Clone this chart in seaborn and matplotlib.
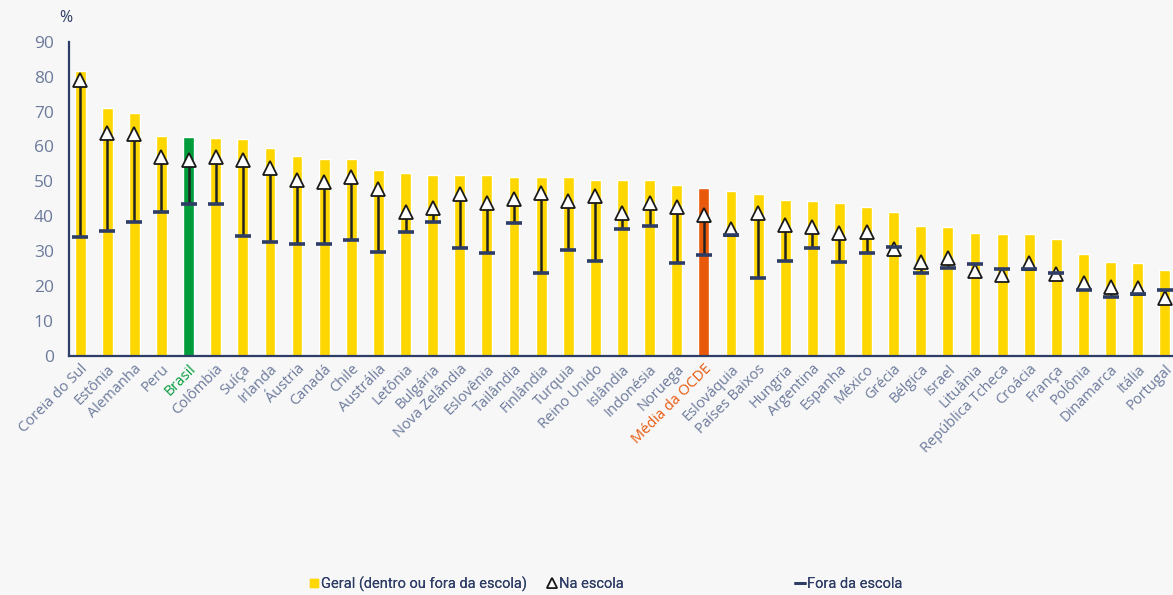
import matplotlib
matplotlib.use('Agg')
import matplotlib.pyplot as plt
import seaborn as sns
import pandas as pd
from matplotlib.lines import Line2D

paises = ['Coreia do Sul', 'Estônia', 'Alemanha', 'Peru', 'Brasil', 'Colômbia', 'Suíça',
          'Irlanda', 'Áustria', 'Canadá', 'Chile', 'Austrália', 'Letônia', 'Bulgária',
          'Nova Zelândia', 'Eslovênia', 'Tailândia', 'Finlândia', 'Turquia', 'Reino Unido',
          'Islândia', 'Indonésia', 'Noruega', 'Média da OCDE', 'Eslováquia', 'Países Baixos',
          'Hungria', 'Argentina', 'Espanha', 'México', 'Grécia', 'Bélgica', 'Israel',
          'Lituânia', 'República Tcheca', 'Croácia', 'França', 'Polônia', 'Dinamarca',
          'Itália', 'Portugal']
geral = [81.7, 70.9, 69.6, 62.9, 62.6, 62.5, 62.0, 59.7, 57.4, 56.3, 56.3, 53.2, 52.5, 51.9,
         51.7, 51.7, 51.3, 51.3, 51.2, 50.5, 50.4, 50.4, 49.0, 48.1, 47.3, 46.3, 44.7, 44.4,
         43.9, 42.8, 41.3, 37.2, 36.8, 35.3, 35.0, 34.8, 33.4, 29.1, 26.8, 26.5, 24.6]
na_escola = [79.0, 63.8, 63.5, 57.1, 56.0, 56.9, 56.0, 53.8, 50.4, 49.9, 51.2, 47.8, 41.1, 42.3,
             46.4, 43.7, 45.0, 46.8, 44.5, 45.8, 40.9, 43.9, 42.6, 40.4, 36.3, 40.9, 37.5, 37.0,
             35.1, 35.6, 30.5, 27.0, 28.0, 24.2, 23.1, 26.5, 23.4, 20.8, 19.7, 19.4, 16.5]
fora_escola = [34.0, 35.8, 38.5, 41.1, 43.5, 43.6, 34.3, 32.6, 32.2, 32.0, 33.3, 29.7, 35.4, 38.5,
               30.8, 29.4, 38.1, 23.8, 30.4, 27.3, 36.3, 37.3, 26.5, 28.9, 34.7, 22.3, 27.3, 30.8,
               27.0, 29.4, 31.1, 23.9, 25.1, 26.3, 24.9, 24.9, 23.9, 18.9, 17.0, 17.8, 18.9]

AMARELO = '#ffd700'
VERDE = '#009c3b'
LARANJA = '#e8590c'
NAVY = '#2e3d66'
CINZA = '#6c7a9c'

cores = {p: AMARELO for p in paises}
cores['Brasil'] = VERDE
cores['Média da OCDE'] = LARANJA

df = pd.DataFrame({'pais': paises, 'geral': geral, 'na': na_escola, 'fora': fora_escola})
df['x'] = range(len(df))

sns.set_style('white')
plt.rcParams['font.family'] = ['Open Sans', 'DejaVu Sans']

fig = plt.figure(figsize=(11.73, 5.95), dpi=100)
fig.patch.set_facecolor('#f7f7f7')
ax = fig.add_axes([69 / 1173, 1 - 356 / 595, 1104 / 1173, (356 - 41.7) / 595])
ax.set_facecolor('#f7f7f7')

sns.barplot(data=df, x='pais', y='geral', hue='pais', palette=cores, legend=False,
            width=0.4, ax=ax, saturation=1, zorder=2)

# linha entre fora e dentro da escola
lo = df[['na', 'fora']].min(axis=1)
hi = df[['na', 'fora']].max(axis=1)
ax.vlines(df['x'], lo, hi, color='#222222', lw=1.8, zorder=3)
ax.plot(df['x'], df['na'], linestyle='none', marker='^', ms=10.5, mfc='white',
        mec='#1a1a1a', mew=1.3, zorder=4)
ax.plot(df['x'], df['fora'], linestyle='none', marker='_', ms=12, mec=NAVY,
        mew=2.6, zorder=5)

ax.set_xlim(-0.41, len(paises) - 1 + 0.3)
ax.set_ylim(0, 90)
ax.set_yticks(range(0, 91, 10))
ax.set_xlabel('')
ax.set_ylabel('')

for s in ['top', 'right']:
    ax.spines[s].set_visible(False)
for s in ['left', 'bottom']:
    ax.spines[s].set_color(NAVY)
    ax.spines[s].set_linewidth(1.6)

ax.tick_params(axis='y', direction='in', length=5, width=1.3, color=NAVY,
               labelsize=12.5, labelcolor=CINZA, pad=11)
ax.tick_params(axis='x', which='major', length=0, pad=4)
ax.set_xticks([i + 0.5 for i in range(len(paises) - 1)], minor=True)
ax.tick_params(axis='x', which='minor', direction='in', length=4, width=1.2, color=NAVY)

ax.set_xticks(range(len(paises)))
ax.set_xticklabels(paises, rotation=45, ha='right', rotation_mode='anchor', fontsize=10.5)
for lbl in ax.get_xticklabels():
    t = lbl.get_text()
    if t == 'Brasil':
        lbl.set_color(VERDE)
    elif t == 'Média da OCDE':
        lbl.set_color(LARANJA)
    else:
        lbl.set_color(CINZA)

fig.text(66 / 1173, 1 - 18 / 595, '%', fontsize=11.5, color=NAVY, ha='center', va='center')

# legenda: tres blocos em posicoes proprias
itens = [
    (Line2D([], [], linestyle='none', marker='s', ms=6, mfc=AMARELO, mec=AMARELO),
     'Geral (dentro ou fora da escola)', 308),
    (Line2D([], [], linestyle='none', marker='^', ms=7, mfc='white', mec='#1a1a1a', mew=1.2),
     'Na escola', 546),
    (Line2D([], [], linestyle='none', marker='_', ms=8, mec=NAVY, mew=2),
     'Fora da escola', 794),
]
for h, txt, xpix in itens:
    leg = fig.legend([h], [txt], loc='center left', bbox_to_anchor=(xpix / 1173, 1 - 584 / 595),
                     frameon=False, handletextpad=0.1, handlelength=0.8,
                     borderaxespad=0, borderpad=0,
                     prop={'family': ['Roboto', 'DejaVu Sans'], 'size': 10.5},
                     labelcolor=NAVY)
    fig.add_artist(leg)

fig.savefig('out.png', dpi=100, facecolor=fig.get_facecolor())
